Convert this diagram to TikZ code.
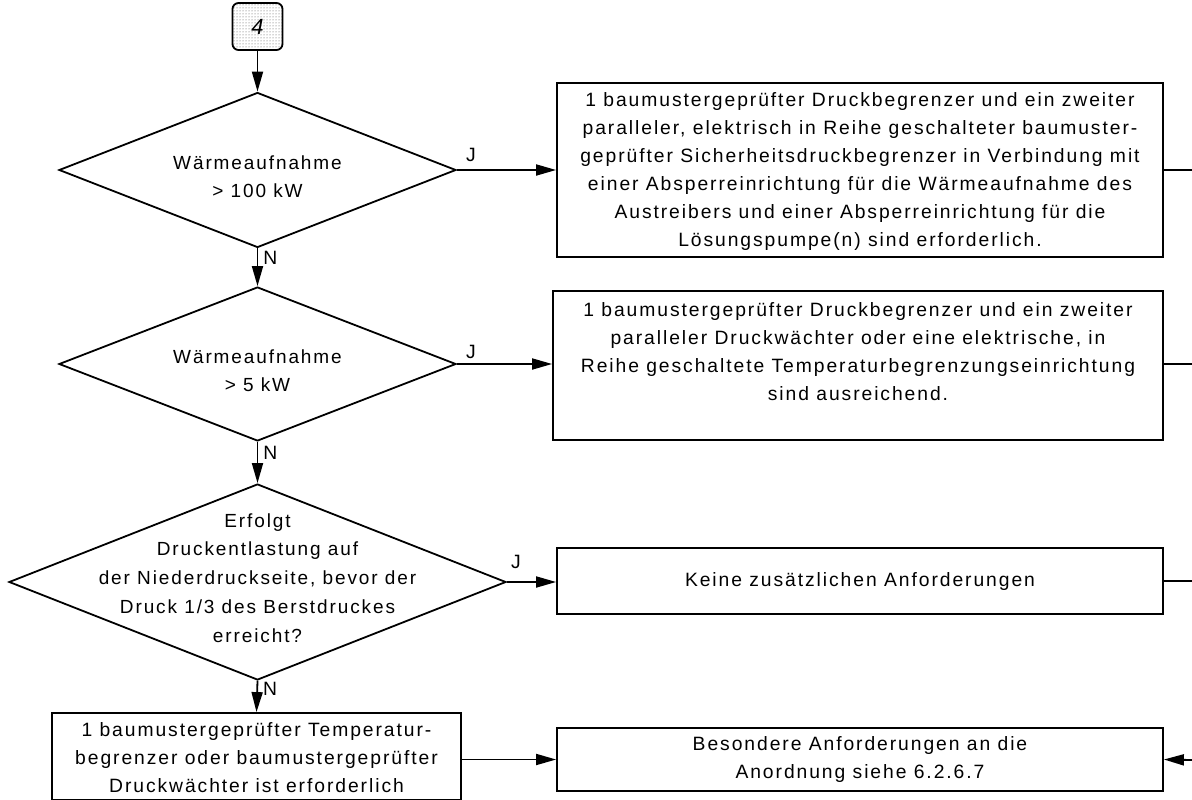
\documentclass[tikz,border=0pt]{standalone}
\usepackage{fontspec}
\setmainfont[LetterSpace=10]{Liberation Sans}
\usetikzlibrary{shapes.geometric,arrows.meta,patterns}
\begin{document}
\begin{tikzpicture}[x=1pt,y=-1pt,
  every node/.style={font=\fontsize{19.3}{28}\selectfont},
  box/.style={draw,line width=1.8pt,rectangle,inner sep=0pt,align=center},
  dia/.style={draw,line width=1.8pt,diamond,inner sep=0pt,align=center},
  con/.style={line width=1.8pt},
  arr/.style={line width=1.8pt,-{Triangle[length=20pt,width=11pt]}},
  lab/.style={inner sep=0pt},
  nlab/.style={inner sep=0pt,anchor=west,pos=0.26,xshift=5pt}]
\useasboundingbox (0,0) rectangle (1192,800);
% start connector
\node[draw,line width=1.8pt,rounded corners=6pt,pattern=dots,pattern color=black!70,minimum width=50pt,minimum height=47pt] (s) at (257.5,26.5) {};
\node[lab,font=\fontsize{22}{24}\selectfont] (st) at (257.5,26.5) {\itshape 4};
% diamonds
\node[dia,minimum width=397pt,minimum height=155pt] (d1) at (257.5,170) {};
\node[lab,align=center,font=\fontsize{19}{28}\selectfont] (d1t) at (257.5,177) {Wärmeaufnahme\\> 100 kW};
\node[dia,minimum width=397pt,minimum height=154pt] (d2) at (257.5,364) {};
\node[lab,align=center,font=\fontsize{19}{28}\selectfont] (d2t) at (257.5,371) {Wärmeaufnahme\\> 5 kW};
\node[dia,minimum width=497pt,minimum height=196pt] (d3) at (257.5,582) {};
\node[lab,align=center,font=\fontsize{19}{28.8}\selectfont] (d3t) at (257.5,578) {Erfolgt\\Druckentlastung auf\\der Niederdruckseite, bevor der\\Druck 1/3 des Berstdruckes\\erreicht?};
% boxes
\node[box,minimum width=606pt,minimum height=174pt] (b1) at (860,170) {};
\node[lab,align=center] (b1t) at (860,172) {1 baumustergeprüfter Druckbegrenzer und ein zweiter\\paralleler, elektrisch in Reihe geschalteter baumuster-\\geprüfter Sicherheitsdruckbegrenzer in Verbindung mit\\einer Absperreinrichtung für die Wärmeaufnahme des\\Austreibers und einer Absperreinrichtung für die\\Lösungspumpe(n) sind erforderlich.};
\node[box,minimum width=610pt,minimum height=149pt] (b2) at (858,365.5) {};
\node[lab,align=center] (b2t) at (858,352) {1 baumustergeprüfter Druckbegrenzer und ein zweiter\\paralleler Druckwächter oder eine elektrische, in\\Reihe geschaltete Temperaturbegrenzungseinrichtung\\sind ausreichend.};
\node[box,minimum width=606pt,minimum height=66pt] (b3) at (860,581) {};
\node[lab] (b3t) at (860,582) {Keine zusätzlichen Anforderungen};
\node[box,minimum width=409pt,minimum height=87pt] (b4) at (256.5,756.5) {};
\node[lab,align=center] (b4t) at (256.5,758) {1 baumustergeprüfter Temperatur-\\begrenzer oder baumustergeprüfter\\Druckwächter ist erforderlich};
\node[box,minimum width=606pt,minimum height=63pt] (b5) at (860,759.5) {};
\node[lab,align=center] (b5t) at (860,760) {Besondere Anforderungen an die\\Anordnung siehe 6.2.6.7};
% edge coordinates
\coordinate (e1) at (1192,170);
\coordinate (e2) at (1192,364);
\coordinate (e3) at (1192,581);
\coordinate (e5) at (1192,760);
% connectors
\draw[arr] (s.south) -- (d1.north);
\draw[arr] (d1.south) -- node[nlab]{N} (d2.north);
\draw[arr] (d2.south) -- node[nlab]{N} (d3.north);
\draw[arr] (d3.south) -- node[nlab]{N} (b4.north);
\draw[arr] (d1.east) -- (b1.west);
\node[lab] (j1) at (471,155) {J};
\draw[arr] (d2.east) -- (b2.west |- d2.east);
\node[lab] (j2) at (471,352) {J};
\draw[arr] (d3.east) -- (b3.west |- d3.east);
\node[lab] (j3) at (516,562) {J};
\draw[con] (b1.east) -- (e1);
\draw[con] (b2.east |- e2) -- (e2);
\draw[con] (b3.east) -- (e3);
\draw[arr] (b4.east |- b5.west) -- (b5.west);
\draw[arr] (e5) -- (b5.east);
\end{tikzpicture}
\end{document}
